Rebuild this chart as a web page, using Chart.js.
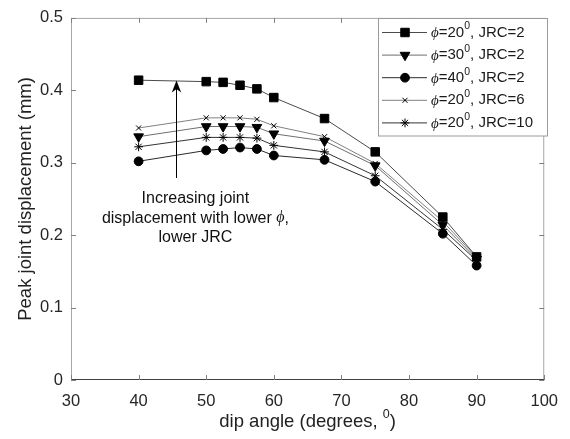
<!DOCTYPE html>
<html>
<head>
<meta charset="utf-8">
<script src="https://cdn.jsdelivr.net/npm/chart.js@4/dist/chart.umd.min.js"></script>
<style>
    body { margin: 0; background: #fff; }
    #wrap { width: 570px; height: 439px; }
</style>
</head>
<body>
<div id="wrap"><canvas id="dispChart" width="570" height="439"></canvas></div>
<script>
// Peak joint displacement vs dip angle

const dipAngles = [40, 50, 52.5, 55, 57.5, 60, 67.5, 75, 85, 90];

const phi20jrc2  = [0.414, 0.412, 0.411, 0.407, 0.402, 0.390, 0.361, 0.315, 0.225, 0.170];
const phi30jrc2  = [0.336, 0.350, 0.350, 0.350, 0.349, 0.340, 0.330, 0.296, 0.214, 0.167];
const phi40jrc2  = [0.302, 0.317, 0.319, 0.321, 0.319, 0.310, 0.304, 0.274, 0.202, 0.158];
const phi20jrc6  = [0.348, 0.362, 0.362, 0.362, 0.360, 0.351, 0.336, 0.299, 0.219, 0.169];
const phi20jrc10 = [0.322, 0.335, 0.335, 0.335, 0.334, 0.324, 0.315, 0.282, 0.208, 0.165];

const legendPhi = ['20', '30', '40', '20', '20'];
const legendJrc = ['2', '2', '2', '6', '10'];

const xTicks = [30, 40, 50, 60, 70, 80, 90, 100];
const yTickLabels = ['0', '0.1', '0.2', '0.3', '0.4', '0.5'];

// annotation (data coordinates)
const arrowX = 45.6;
const arrowFromY = 0.279;
const arrowToY = 0.4135;
const noteX = 48.4;
const noteLines = ['Increasing joint', 'displacement with lower ', 'lower JRC'];
const noteY = [0.2503, 0.2235, 0.1966];

const SANS = '"Liberation Sans", Arial, Helvetica, sans-serif';
const SERIF = '"Liberation Serif", "DejaVu Serif", serif';

function toPoints(values) {
    return dipAngles.map((x, i) => ({ x: x, y: values[i] }));
}

function makeSeries(values, style, radius, rotation, lineColor) {
    return {
        data: toPoints(values),
        borderColor: lineColor,
        borderWidth: 1,
        pointStyle: style,
        pointRadius: radius,
        pointRotation: rotation,
        pointBackgroundColor: '#000',
        pointBorderColor: '#000',
        pointBorderWidth: 1,
        fill: false,
        tension: 0
    };
}

const frameAndNotes = {
    id: 'frameAndNotes',
    afterDraw(chart) {
        const ctx = chart.ctx;
        const area = chart.chartArea;
        const xs = chart.scales.x;
        const ys = chart.scales.y;
        ctx.save();

        // axis box
        ctx.lineWidth = 1;
        ctx.strokeStyle = '#a6a6a6';
        ctx.beginPath();
        ctx.moveTo(area.left + 0.5, area.bottom);
        ctx.lineTo(area.left + 0.5, area.top + 0.5);
        ctx.lineTo(area.right - 0.5, area.top + 0.5);
        ctx.lineTo(area.right - 0.5, area.bottom);
        ctx.stroke();
        ctx.strokeStyle = '#404040';
        ctx.beginPath();
        ctx.moveTo(area.left, area.bottom - 0.5);
        ctx.lineTo(area.right, area.bottom - 0.5);
        ctx.stroke();

        // inside tick marks
        ctx.strokeStyle = '#808080';
        ctx.beginPath();
        xTicks.forEach(v => {
            const px = Math.round(xs.getPixelForValue(v)) + 0.5;
            ctx.moveTo(px, area.bottom); ctx.lineTo(px, area.bottom - 5);
            ctx.moveTo(px, area.top); ctx.lineTo(px, area.top + 5);
        });
        yTickLabels.forEach((t, i) => {
            const py = Math.round(ys.getPixelForValue(i * 0.1)) + 0.5;
            ctx.moveTo(area.left, py); ctx.lineTo(area.left + 5, py);
            ctx.moveTo(area.right, py); ctx.lineTo(area.right - 5, py);
        });
        ctx.stroke();

        // arrow
        const ax = Math.round(xs.getPixelForValue(arrowX)) + 0.5;
        const ay0 = ys.getPixelForValue(arrowFromY);
        const ay1 = ys.getPixelForValue(arrowToY);
        ctx.strokeStyle = '#000';
        ctx.fillStyle = '#000';
        ctx.beginPath();
        ctx.moveTo(ax, ay0);
        ctx.lineTo(ax, ay1 + 8);
        ctx.stroke();
        ctx.beginPath();
        ctx.moveTo(ax, ay1);
        ctx.lineTo(ax - 4.7, ay1 + 12);
        ctx.lineTo(ax, ay1 + 8.5);
        ctx.lineTo(ax + 4.7, ay1 + 12);
        ctx.closePath();
        ctx.fill();

        // note text
        ctx.fillStyle = '#111';
        ctx.textBaseline = 'middle';
        const nx = xs.getPixelForValue(noteX);
        noteLines.forEach((line, i) => {
            const ny = ys.getPixelForValue(noteY[i]);
            if (i === 1) {
                ctx.font = '16px ' + SANS;
                const w1 = ctx.measureText(line).width;
                ctx.font = 'italic 16px ' + SERIF;
                const w2 = ctx.measureText('\u03D5').width;
                ctx.font = '16px ' + SANS;
                const w3 = ctx.measureText(',').width;
                let sx = nx - (w1 + w2 + w3) / 2;
                ctx.textAlign = 'left';
                ctx.fillText(line, sx, ny);
                ctx.font = 'italic 16px ' + SERIF;
                ctx.fillText('\u03D5', sx + w1, ny);
                ctx.font = '16px ' + SANS;
                ctx.fillText(',', sx + w1 + w2, ny);
            } else {
                ctx.font = '16px ' + SANS;
                ctx.textAlign = 'center';
                ctx.fillText(line, nx, ny);
            }
        });

        // x axis title with superscript
        ctx.fillStyle = '#222';
        ctx.font = '18.5px ' + SANS;
        const t1 = 'dip angle (degrees, ';
        const w1 = ctx.measureText(t1).width;
        ctx.font = '12.5px ' + SANS;
        const ws = ctx.measureText('0').width;
        ctx.font = '18.5px ' + SANS;
        const w2 = ctx.measureText(')').width;
        const cx = (area.left + area.right) / 2;
        let tx = cx - (w1 + ws + w2) / 2;
        const ty = 422;
        ctx.textAlign = 'left';
        ctx.fillText(t1, tx, ty);
        ctx.font = '12.5px ' + SANS;
        ctx.fillText('0', tx + w1, ty - 7);
        ctx.font = '18.5px ' + SANS;
        ctx.fillText(')', tx + w1 + ws, ty);

        // legend
        const lx = 378.5, ly = 18.5, lw = 169, lh = 117.5;
        ctx.fillStyle = '#fff';
        ctx.fillRect(lx, ly, lw, lh);
        ctx.strokeStyle = '#9a9a9a';
        ctx.lineWidth = 1;
        ctx.strokeRect(lx, ly, lw, lh);
        chart.data.datasets.forEach((ds, i) => {
            const ry = 32.5 + i * 22.6;
            ctx.strokeStyle = ds.borderColor;
            ctx.lineWidth = 1;
            ctx.beginPath();
            ctx.moveTo(382, ry);
            ctx.lineTo(427, ry);
            ctx.stroke();
            ctx.fillStyle = '#000';
            ctx.strokeStyle = '#000';
            Chart.helpers.drawPoint(ctx, {
                pointStyle: ds.pointStyle,
                radius: ds.pointRadius,
                rotation: ds.pointRotation,
                borderWidth: 1
            }, 405, ry);

            let px = 431;
            ctx.fillStyle = '#1a1a1a';
            ctx.textAlign = 'left';
            ctx.textBaseline = 'middle';
            ctx.font = 'italic 15px ' + SERIF;
            ctx.fillText('\u03D5', px, ry + 1);
            px += ctx.measureText('\u03D5').width;
            ctx.font = '15px ' + SANS;
            const a = '=' + legendPhi[i];
            ctx.fillText(a, px, ry);
            px += ctx.measureText(a).width;
            ctx.font = '10.5px ' + SANS;
            ctx.fillText('0', px, ry - 6);
            px += ctx.measureText('0').width;
            ctx.font = '15px ' + SANS;
            ctx.fillText(', JRC=' + legendJrc[i], px, ry);
        });

        ctx.restore();
    }
};

const ctx = document.getElementById('dispChart');

new Chart(ctx, {
    type: 'line',
    data: {
        datasets: [
            makeSeries(phi20jrc2, 'rect', 6, 0, '#4a4a4a'),
            makeSeries(phi30jrc2, 'triangle', 5.6, 180, '#6e6e6e'),
            makeSeries(phi40jrc2, 'circle', 4.4, 0, '#2a2a2a'),
            makeSeries(phi20jrc6, 'crossRot', 3.6, 0, '#808080'),
            makeSeries(phi20jrc10, 'star', 4.4, 0, '#333333')
        ]
    },
    options: {
        responsive: false,
        animation: false,
        layout: {
            padding: { left: 0, right: 20, top: 7, bottom: 0 }
        },
        plugins: {
            legend: { display: false },
            tooltip: { enabled: false }
        },
        scales: {
            x: {
                type: 'linear',
                min: 30,
                max: 100,
                afterFit: function(scale) { scale.height = 59; },
                afterBuildTicks: function(scale) {
                    scale.ticks = xTicks.map(v => ({ value: v }));
                },
                grid: { display: false, drawTicks: false },
                border: { display: false },
                ticks: {
                    color: '#262626',
                    padding: 12,
                    maxRotation: 0,
                    font: { family: SANS, size: 16.5 },
                    callback: function(value) { return String(value); }
                }
            },
            y: {
                type: 'linear',
                min: 0,
                max: 0.5,
                afterFit: function(scale) { scale.width = 71; },
                afterBuildTicks: function(scale) {
                    scale.ticks = yTickLabels.map((t, i) => ({ value: i / 10 }));
                },
                grid: { display: false, drawTicks: false },
                border: { display: false },
                ticks: {
                    color: '#262626',
                    padding: 8,
                    font: { family: SANS, size: 16.5 },
                    callback: function(value, index) { return yTickLabels[index]; }
                },
                title: {
                    display: true,
                    text: 'Peak joint displacement (mm)',
                    color: '#222',
                    padding: { top: 15, bottom: 0 },
                    font: { family: SANS, size: 18.5 }
                }
            }
        }
    },
    plugins: [frameAndNotes]
});
</script>
</body>
</html>
